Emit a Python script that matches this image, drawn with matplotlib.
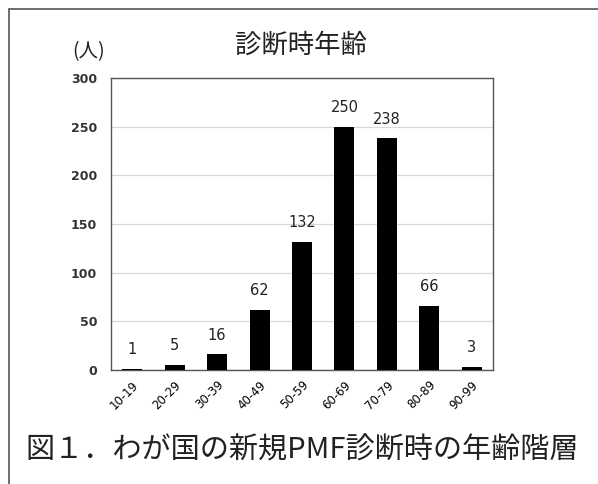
import matplotlib
matplotlib.use("Agg")
import matplotlib.pyplot as plt
from matplotlib.patches import Rectangle

plt.rcParams['font.family'] = ['Noto Sans CJK JP', 'DejaVu Sans']

age_groups = ["10-19", "20-29", "30-39", "40-49", "50-59",
              "60-69", "70-79", "80-89", "90-99"]
patients = [1, 5, 16, 62, 132, 250, 238, 66, 3]
y_ticks = [0, 50, 100, 150, 200, 250, 300]

W, H = 598, 484
fig = plt.figure(figsize=(W / 100, H / 100), dpi=100)
fig.patch.set_facecolor("white")

# outer frame (only top and left edges fall inside the image)
fig.patches.append(Rectangle((9 / W, -0.1), 1.2, (H - 9) / H + 0.1,
                             transform=fig.transFigure, fill=False,
                             ec="#555555", lw=1.2))

ax = fig.add_axes([111 / W, 1 - 370 / H, (493 - 111) / W, (370 - 78) / H])
x = range(len(age_groups))
ax.bar(x, patients, width=0.47, color="black", zorder=3)
ax.set_xlim(-0.5, len(age_groups) - 0.5)
ax.set_ylim(0, 300)
ax.set_yticks(y_ticks)
ax.set_yticklabels([str(v) for v in y_ticks], fontsize=9,
                   family="Liberation Sans Narrow", fontweight="bold",
                   color="#333333")
ax.set_xticks(list(x))
ax.set_xticklabels(age_groups, rotation=45, ha="right", rotation_mode="anchor",
                   fontsize=8.5, family="DejaVu Sans")
ax.tick_params(axis="y", length=0, pad=10)
ax.tick_params(axis="x", length=0, pad=6)
ax.grid(axis="y", color="#d9d9d9", lw=0.9, zorder=0)
for s in ax.spines.values():
    s.set_color("#555555")
    s.set_linewidth(1.0)

for i, v in enumerate(patients):
    ax.text(i, v + 12, str(v), ha="center", va="bottom", fontsize=10.5,
            color="#222222", family="DejaVu Sans")

fig.text(301 / W, 1 - 45 / H, "診断時年齢", ha="center", va="center",
         fontsize=19, color="#222222")
fig.text(89 / W, 1 - 52 / H, "(人)", ha="center", va="center",
         fontsize=14, color="#222222")
fig.text(302 / W, 1 - 451 / H, "図１．わが国の新規PMF診断時の年齢階層",
         ha="center", va="center", fontsize=21, color="#222222")

fig.savefig("out.png", dpi=100, facecolor="white")
